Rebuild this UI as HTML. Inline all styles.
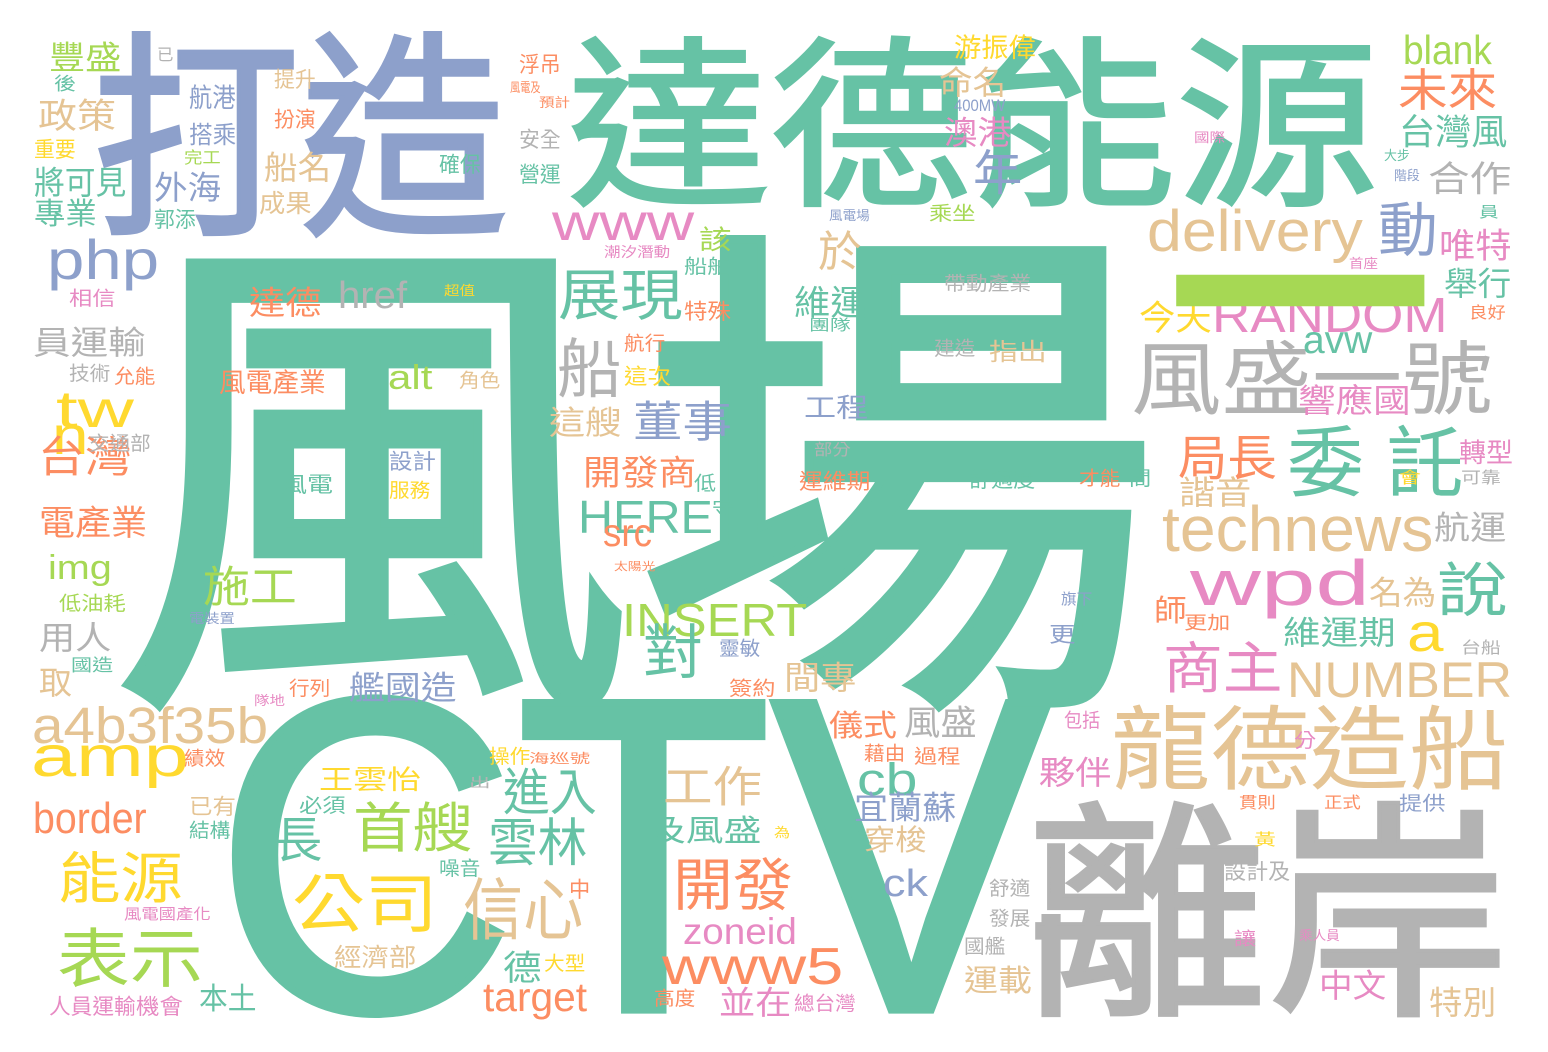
<!DOCTYPE html>
<html><head><meta charset="utf-8">
<style>
html,body{margin:0;padding:0;background:#fff;}
#cloud{position:relative;width:1548px;height:1052px;overflow:hidden;background:#fff;font-family:"Liberation Sans","Noto Sans CJK TC",sans-serif;}
#cloud span{position:absolute;white-space:nowrap;line-height:1;transform-origin:0 0;}
</style></head>
<body>
<div id="cloud"></div>
<script>
const C={T:'#66c2a5',O:'#fc8d62',B:'#8da0cb',P:'#e78ac3',G:'#a6d854',Y:'#ffd92f',N:'#e5c494',R:'#b3b3b3'};
const words=[
['風場','T',130,228,1010,475,'c'],['CTV','T',235,690,795,320,'A'],['達德能源','T',575,35,795,170,'c'],
['打造','B',100,30,400,205,'c'],['離岸','R',1035,800,465,215,'c'],['風盛一號','R',1135,340,355,75,'c'],
['龍德造船','N',1115,705,390,85,'c'],['delivery','N',1150,210,210,55,'ad'],['wpd','P',1195,560,170,60,'ad'],
['technews','N',1165,505,265,47,'a'],['委','T',1290,425,70,72,'c'],['託','T',1390,425,70,72,'c'],
['局長','O',1180,435,95,45,'c'],['說','T',1440,560,65,55,'c'],['NUMBER','N',1290,662,220,36,'A'],
['商主','P',1165,640,115,52,'c'],['RANDOM','P',1215,298,230,35,'A'],['未來','O',1400,68,95,42,'c'],
['台灣風','T',1400,115,105,33,'c'],['blank','G',1405,35,85,30,'a'],['合作','R',1430,162,80,33,'c'],
['唯特','P',1440,230,70,32,'c'],['舉行','T',1445,268,65,30,'c'],['年','B',975,150,45,45,'c'],
['命名','N',940,67,65,30,'c'],['澳港','P',945,117,65,30,'c'],['游振偉','Y',955,35,80,25,'c'],
['動','B',1380,200,55,55,'c'],['今天','Y',1140,302,70,32,'c'],['avw','T',1305,335,65,20,'x'],
['響應國','P',1300,385,110,30,'c'],['諧音','N',1180,477,70,30,'c'],['航運','R',1435,512,70,30,'c'],
['轉型','P',1460,440,52,25,'c'],['名為','N',1370,577,65,30,'c'],['a','Y',1410,625,30,28,'x'],
['維運期','T',1285,617,110,30,'c'],['師','O',1155,597,30,28,'c'],['夥伴','P',1040,757,70,30,'c'],
['中文','P',1320,970,65,30,'c'],['特別','N',1430,987,65,30,'c'],
['php','B',50,240,105,52,'ad'],['豐盛','G',50,42,70,30,'c'],['政策','N',40,100,75,32,'c'],
['將可見','T',35,167,90,30,'c'],['專業','T',35,200,60,28,'c'],['員運輸','R',35,327,110,30,'c'],
['tw','Y',60,390,70,38,'a'],['n','Y',55,428,30,28,'x'],['台灣','O',40,437,90,40,'c'],
['電產業','O',40,507,105,32,'c'],['img','G',50,555,60,32,'ad'],['低油耗','G',60,595,65,18,'c'],
['用人','R',40,622,70,30,'c'],['取','N',40,667,30,30,'c'],['a4b3f35b','N',35,707,230,37,'a'],
['amp','Y',35,748,150,42,'xd'],['border','O',35,802,110,32,'a'],['能源','Y',60,850,120,52,'c'],
['表示','G',60,927,140,60,'c'],['本土','T',200,985,55,28,'c'],['外海','B',155,172,65,30,'c'],
['船名','N',265,152,65,30,'c'],['成果','N',260,193,50,23,'c'],['達德','O',250,287,70,30,'c'],
['href','R',340,282,65,28,'a'],['展現','T',560,267,120,52,'c'],['www','P',555,215,135,27,'x'],
['船','R',560,337,60,60,'c'],['於','N',820,232,40,40,'c'],['該','G',700,227,30,25,'c'],
['維運','T',795,287,70,32,'c'],['董事','B',635,402,95,40,'c'],['這艘','N',550,407,70,30,'c'],
['工程','B',805,395,62,25,'c'],['開發商','O',585,457,110,32,'c'],['HERE','T',580,500,130,33,'A'],
['src','O',605,528,45,20,'x'],['施工','G',205,567,90,40,'c'],['INSERT','G',625,603,180,33,'A'],
['對','T',645,622,55,55,'c'],['間專','N',785,662,70,30,'c'],['艦國造','B',350,672,105,30,'c'],
['儀式','O',830,712,65,28,'c'],['風盛','R',905,707,70,32,'c'],['cb','T',860,762,55,33,'a'],
['工作','N',665,767,95,40,'c'],['進入','T',505,767,90,47,'c'],['及風盛','T',650,817,110,28,'c'],
['宜蘭蘇','B',855,792,100,30,'c'],['穿梭','N',865,827,60,27,'c'],['首艘','G',355,802,115,50,'c'],
['長','T',275,817,45,45,'c'],['雲林','T',490,817,95,48,'c'],['公司','Y',295,872,140,60,'c'],
['信心','N',465,877,115,63,'c'],['開發','O',675,857,115,53,'c'],['ck','B',885,870,40,28,'a'],
['zoneid','P',685,917,110,27,'a'],['www5','O',665,947,175,38,'a'],['target','O',485,982,100,30,'a'],
['德','T',505,952,35,32,'c'],['並在','P',720,987,70,30,'c'],['王雲怡','Y',320,767,100,25,'c'],
['運載','N',965,967,65,28,'c'],['經濟部','N',335,947,80,23,'c'],
['已','R',158,47,15,15,'c'],['後','T',55,75,20,17,'c'],['重要','Y',35,140,40,20,'c'],
['航港','B',190,85,45,25,'c'],['搭乘','B',190,125,45,22,'c'],['完工','G',185,150,35,15,'c'],
['郭添','T',155,210,40,20,'c'],['提升','N',275,70,40,20,'c'],['扮演','O',275,110,40,20,'c'],
['浮吊','O',520,55,40,20,'c'],['風電及','O',510,82,30,12,'c'],['預計','O',540,97,30,12,'c'],
['安全','R',520,130,40,20,'c'],['確保','T',440,155,40,20,'c'],['營運','T',520,165,40,20,'c'],
['相信','P',70,290,45,18,'c'],['技術','R',70,365,40,18,'c'],['允能','O',115,368,40,18,'c'],
['交通部','R',90,435,60,18,'c'],['風電產業','O',220,370,105,25,'c'],['alt','G',390,365,40,25,'a'],
['角色','N',460,372,40,18,'c'],['航行','O',625,335,40,18,'c'],['這次','Y',625,367,45,20,'c'],
['特殊','O',685,302,45,20,'c'],['船舶','T',685,258,45,18,'c'],['潮汐潛動','P',605,245,65,13,'c'],
['超值','Y',445,285,30,12,'c'],['設計','B',390,452,45,20,'c'],['服務','Y',390,482,40,18,'c'],
['風電','T',282,475,50,20,'c'],['低','T',695,475,20,18,'c'],['守','T',713,500,20,18,'c'],
['太陽光','O',615,562,40,10,'c'],['電裝置','B',190,613,45,12,'c'],['國造','T',72,657,40,16,'c'],
['行列','O',290,680,40,18,'c'],['隊地','P',255,695,30,12,'c'],['績效','O',185,750,40,18,'c'],
['已有','N',190,797,45,20,'c'],['結構','T',190,822,40,18,'c'],['操作','Y',490,748,40,18,'c'],
['海巡號','O',530,753,60,12,'c'],['必須','T',300,797,45,18,'c'],['噪音','T',440,860,40,18,'c'],
['中','O',570,880,20,20,'c'],['大型','Y',545,955,40,18,'c'],['風電國產化','P',125,907,85,14,'c'],
['人員運輸','P',50,997,85,20,'c'],['機會','P',137,997,45,20,'c'],['高度','O',655,990,40,18,'c'],
['總台灣','P',795,995,60,18,'c'],['簽約','O',730,680,45,18,'c'],['靈敏','B',720,640,40,18,'c'],
['部分','R',815,442,35,15,'c'],['運維期','O',800,472,70,20,'c'],['團隊','T',810,318,40,14,'c'],
['帶動產業','R',945,275,85,18,'c'],['建造','R',935,340,40,18,'c'],['指出','N',990,342,55,22,'c'],
['舒適度','T',970,470,65,20,'c'],['才能','O',1080,470,40,18,'c'],['間','T',1130,470,20,18,'c'],
['乘坐','G',930,205,45,18,'c'],['風電場','B',830,210,40,12,'c'],['400MW','B',955,100,50,12,'A'],
['國際','P',1195,132,30,12,'c'],['大步','T',1385,150,25,12,'c'],['階段','B',1395,170,25,12,'c'],
['員','T',1480,205,18,14,'c'],['首座','P',1350,258,28,12,'c'],['良好','O',1470,305,35,15,'c'],
['可靠','R',1462,470,38,15,'c'],['會','Y',1400,470,20,15,'c'],['台船','R',1462,640,38,15,'c'],
['更加','O',1185,614,45,17,'c'],['更','B',1050,625,25,20,'c'],['旗下','B',1062,592,30,14,'c'],
['包括','P',1065,712,35,18,'c'],['藉由','O',865,745,40,18,'c'],['過程','O',915,748,45,18,'c'],
['分','P',1295,732,20,18,'c'],['貫則','O',1240,795,35,15,'c'],['正式','O',1325,795,35,15,'c'],
['提供','B',1400,795,45,18,'c'],['黃','Y',1255,832,20,15,'c'],['設計及','R',1225,862,65,20,'c'],
['舒適','R',990,880,40,18,'c'],['發展','R',990,910,40,18,'c'],['國艦','R',965,938,40,18,'c'],
['讓','P',1235,930,20,17,'c'],['乘人員','P',1300,930,40,12,'c'],['為','Y',775,827,15,12,'c'],
['出','R',470,777,20,12,'c']
];
const cloud=document.getElementById('cloud');
const K={c:[0.93,-0.01],A:[0.716,0.13],ad:[0.94,0.12],a:[0.73,0.12],x:[0.52,0.33],xd:[0.73,0.33]};
words.forEach(w=>{
  const [t,col,x,y,wd,h,ty]=w;
  const k=K[ty];
  const size=h/k[0];
  const s=document.createElement('span');
  
  
  s.textContent=t;
  s.style.color=C[col];
  s.style.fontSize=size+'px';
  if(h>=150){ s.style.webkitTextStroke=(0.016*size)+'px '+C[col]; }
  cloud.appendChild(s);
  const bear=ty==='c'?0.04*size:0.05*size;
  const adv=s.offsetWidth;
  const sc=wd/Math.max(1,adv-2*bear);
  s.style.left=(x-bear*sc)+'px';
  s.style.top=(y-k[1]*size)+'px';
  s.style.transform='scaleX('+sc+')';
});
const d=document.createElement('span');


d.textContent='一';
d.style.color=C.G;
d.style.fontSize='240px';
d.style.fontWeight='bold';
cloud.appendChild(d);
const dw=d.offsetWidth;
d.style.left='1166px';
d.style.top=(284-0.43*240)+'px';
d.style.transform='scaleX('+(268/dw)+')';
</script>
</body></html>
